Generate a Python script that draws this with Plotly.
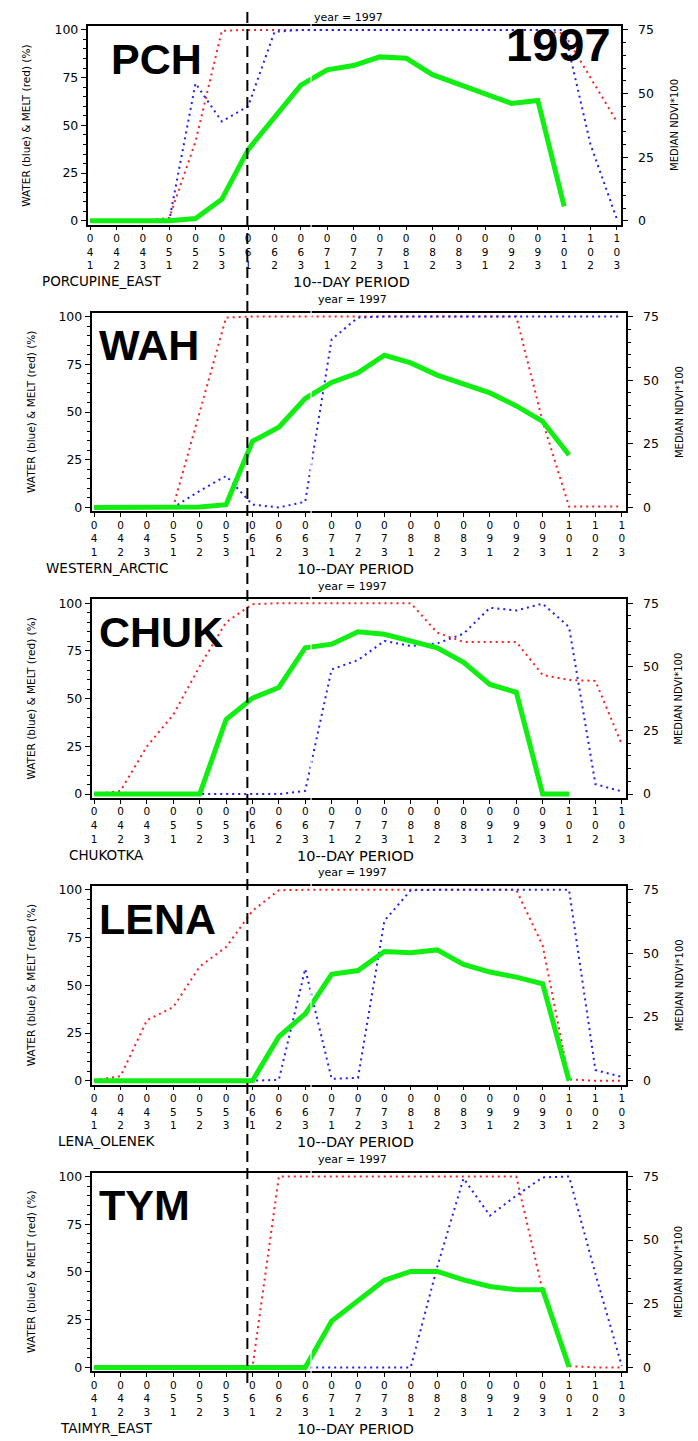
import plotly.graph_objects as go

# ---------------- data ----------------
periods = ["041", "042", "043", "051", "052", "053", "061", "062", "063", "071", "072",
           "073", "081", "082", "083", "091", "092", "093", "101", "102", "103"]
tick_text = ["<br>".join(p) for p in periods]

region_codes = ["PCH", "WAH", "CHUK", "LENA", "TYM"]
region_names = ["PORCUPINE_EAST", "WESTERN_ARCTIC", "CHUKOTKA", "LENA_OLENEK", "TAIMYR_EAST"]
year_label = "1997"

# WATER (blue, %, left axis)
pch_water = [0, 0, 0, 0, 72, 52, 60, 99, 100, 100, 100, 100, 100, 100, 100, 100, 100, 100, 100, 40, 1]
wah_water = [0, 0, 0, 0, 8.7, 16.5, 1.5, 0, 3, 88, 99.5, 100, 100, 100, 100, 100, 100, 100, 100, 100, 100]
chuk_water = [0, 0, 0, 0, 0, 0, 0, 0, 1.7, 65.3, 70.2, 80.2, 77.6, 78.9, 84, 97.6, 96.2, 99.7, 87.5, 5.2, 1.4]
lena_water = [0, 0, 0, 0, 0, 0, 0, 0.5, 58.6, 1, 1.5, 83.8, 99.8, 100, 100, 100, 100, 100, 100, 5.6, 2]
tym_water = [0, 0, 0, 0, 0, 0, 0, 0, 0, 0, 0, 0, 0, 52.5, 99, 79.5, 90, 99.5, 100, 49, 0.7]

# MELT (red, %, left axis)
pch_melt = [0, 0, 0, 1.5, 41.5, 99.5, 100, 100, 100, 100, 100, 100, 100, 100, 100, 100, 100, 100, 98, 75, 52]
wah_melt = [0, 0, 0, 0.5, 50, 99.5, 100, 100, 100, 100, 100, 100, 100, 100, 100, 100, 100, 45, 0.5, 0.5, 0.5]
chuk_melt = [0, 1.7, 25, 41.6, 67, 90, 99.5, 100, 100, 100, 100, 100, 100, 84.6, 79.7, 79.7, 79.7, 62.4, 59.8, 59.3, 26]
lena_melt = [0.3, 2.4, 31.7, 38.6, 59.8, 70, 89, 99.8, 100, 100, 100, 100, 100, 100, 100, 100, 100, 70.8, 0.7, 0, 0]
tym_melt = [0, 0, 0, 0, 0, 0, 0, 100, 100, 100, 100, 100, 100, 100, 100, 100, 100, 40, 0.7, 0, 0]

# MEDIAN NDVI*100 (green, right axis)
pch_ndvi = [0, 0, 0, 0, 0.9, 8.5, 28, 41, 53.3, 59.3, 61, 64.4, 63.9, 57.4, 53.6, 49.4, 46.1, 47.3, 5.7, None, None]
wah_ndvi = [0, 0, 0, 0, 0.2, 1.1, 26, 31.5, 42.8, 49.1, 52.9, 59.8, 56.8, 52, 48.5, 45, 39.9, 33.8, 20.6, None, None]
chuk_ndvi = [0, 0, 0, 0, 0, 29.3, 37.7, 41.9, 57.5, 58.9, 63.8, 62.8, 60.3, 57.5, 51.8, 43.1, 40, 0, 0, None, None]
lena_ndvi = [0, 0, 0, 0, 0, 0, 0, 17.3, 26.3, 41.8, 43.3, 50.8, 50.3, 51.4, 45.7, 42.7, 40.7, 38.1, 0, None, None]
tym_ndvi = [0, 0, 0, 0, 0, 0, 0, 0, 0, 18.2, 26.3, 34.2, 37.7, 37.7, 34.4, 31.8, 30.5, 30.5, 0.2, None, None]

water = [pch_water, wah_water, chuk_water, lena_water, tym_water]
melt = [pch_melt, wah_melt, chuk_melt, lena_melt, tym_melt]
ndvi = [pch_ndvi, wah_ndvi, chuk_ndvi, lena_ndvi, tym_ndvi]

left_ticks = [0, 25, 50, 75, 100]
right_ticks = [0, 25, 50, 75]

# ---------------- layout geometry ----------------
# the page body keeps its default 8px margin, so the figure is placed 8px in;
# positions below are given in page pixels and converted to figure fractions.
OFF = 8
W, H = 698 - OFF, 1441 - OFF
FONT = "DejaVu Sans"
px = lambda v: (v - OFF) / W
py = lambda v: 1 - (v - OFF) / H

fig = go.Figure()
layout = dict(width=W, height=H, autosize=False, margin=dict(l=0, r=0, t=0, b=0),
              paper_bgcolor="white", plot_bgcolor="white", showlegend=False,
              font=dict(family=FONT, color="black"))
annotations = []
shapes = []
xs = list(range(len(periods)))

for i in range(5):
    y100 = 26 + 288.25 * i
    y0 = y100 + 192
    if i == 0:
        x041, sp, dx = 89.3, 26.37, -4.5
    else:
        x041, sp, dx = 93.3, 26.42, 0.0
    xl, xr = x041 - 0.1 * sp, x041 + 20.15 * sp
    ytop, ybot = y100 - 3.84, y0 + 3.84

    xa = "xaxis" if i == 0 else f"xaxis{i + 1}"
    ya = "yaxis" if i == 0 else f"yaxis{2 * i + 1}"
    yb = f"yaxis{2 * i + 2}"
    xref = "x" if i == 0 else f"x{i + 1}"
    yref_l = "y" if i == 0 else f"y{2 * i + 1}"
    yref_r = f"y{2 * i + 2}"

    layout[xa] = dict(domain=[px(xl), px(xr)], anchor=yref_l, range=[-0.1, 20.15],
                      tickmode="array", tickvals=xs, ticktext=tick_text,
                      ticks="outside", ticklen=4, tickwidth=1.3, tickcolor="black",
                      showline=True, linecolor="black", linewidth=1.5, mirror=True,
                      showgrid=False, zeroline=False, ticklabelstandoff=-1,
                      tickfont=dict(family=FONT, size=10.5, color="black"))
    layout[ya] = dict(domain=[py(ybot), py(ytop)], anchor=xref, range=[-2, 102],
                      tickmode="array", tickvals=left_ticks,
                      ticks="outside", ticklen=5, tickwidth=1.3, tickcolor="black",
                      minor=dict(dtick=5, ticklen=3, ticks="outside", tickcolor="black",
                                 tickwidth=1, showgrid=False),
                      showline=True, linecolor="black", linewidth=1.5,
                      showgrid=False, zeroline=False,
                      tickfont=dict(family=FONT, size=12.5, color="black"))
    layout[yb] = dict(domain=[py(ybot), py(ytop)], anchor=xref, overlaying=yref_l,
                      side="right", range=[-1.5, 76.5],
                      tickmode="array", tickvals=right_ticks,
                      ticks="outside", ticklen=5, tickwidth=1.3, tickcolor="black",
                      minor=dict(dtick=5, ticklen=3, ticks="outside", tickcolor="black",
                                 tickwidth=1, showgrid=False),
                      showline=True, linecolor="black", linewidth=1.5,
                      showgrid=False, zeroline=False, ticklabelstandoff=8,
                      tickfont=dict(family=FONT, size=12.5, color="black"))

    fig.add_trace(go.Scatter(x=xs, y=melt[i], mode="lines", xaxis=xref, yaxis=yref_l,
                             line=dict(color="rgb(255,30,30)", width=2, dash="2px,4px")))
    fig.add_trace(go.Scatter(x=xs, y=water[i], mode="lines", xaxis=xref, yaxis=yref_l,
                             line=dict(color="rgb(30,30,255)", width=2, dash="2px,4px")))
    fig.add_trace(go.Scatter(x=xs, y=ndvi[i], mode="lines", xaxis=xref, yaxis=yref_r,
                             line=dict(color="#11ee11", width=5), connectgaps=False))

    # texts
    annotations.append(dict(text=f"year = {year_label}", x=px(352 + dx), y=py(max(y100 - 17, 13.5)),
                            xref="paper", yref="paper", showarrow=False,
                            font=dict(family=FONT, size=11), xanchor="center", yanchor="middle"))
    annotations.append(dict(text=region_names[i], x=px(106 + dx), y=py(y0 + 61),
                            xref="paper", yref="paper", showarrow=False,
                            font=dict(family=FONT, size=13.5), xanchor="center", yanchor="middle"))
    annotations.append(dict(text="10--DAY PERIOD", x=px(355 + dx), y=py(y0 + 62),
                            xref="paper", yref="paper", showarrow=False,
                            font=dict(family=FONT, size=14.5), xanchor="center", yanchor="middle"))
    annotations.append(dict(text="WATER (blue) & MELT (red) (%)", x=px(30 + dx),
                            y=py((y100 + y0) / 2), xref="paper", yref="paper", showarrow=False,
                            textangle=-90, font=dict(family=FONT, size=10.5),
                            xanchor="center", yanchor="middle"))
    annotations.append(dict(text="MEDIAN NDVI*100", x=px(679 + dx),
                            y=py((y100 + y0) / 2), xref="paper", yref="paper", showarrow=False,
                            textangle=-90, font=dict(family=FONT, size=10),
                            xanchor="center", yanchor="middle"))
    annotations.append(dict(text=f"<b>{region_codes[i]}</b>", x=px(108 if i == 0 else 96),
                            y=py(y100 + 29), xref="paper", yref="paper", showarrow=False,
                            font=dict(family="Liberation Sans", size=43, color="black"),
                            xanchor="left", yanchor="middle"))

annotations.append(dict(text=f"<b>{year_label}</b>", x=px(558.5), y=py(40.5),
                        xref="paper", yref="paper", showarrow=False,
                        font=dict(family="Liberation Sans", size=47, color="black"),
                        xanchor="center", yanchor="middle"))

shapes.append(dict(type="line", xref="paper", yref="paper", x0=px(246.7), x1=px(246.7),
                   y0=py(OFF), y1=py(1392), layer="above",
                   line=dict(color="black", width=2, dash="11px,6px")))
shapes.append(dict(type="line", xref="paper", yref="paper", x0=px(310.5), x1=px(310.5),
                   y0=py(OFF), y1=py(1441), layer="above",
                   line=dict(color="white", width=1.2)))

layout["annotations"] = annotations
layout["shapes"] = shapes
fig.update_layout(**layout)
fig.write_html("out.html")
